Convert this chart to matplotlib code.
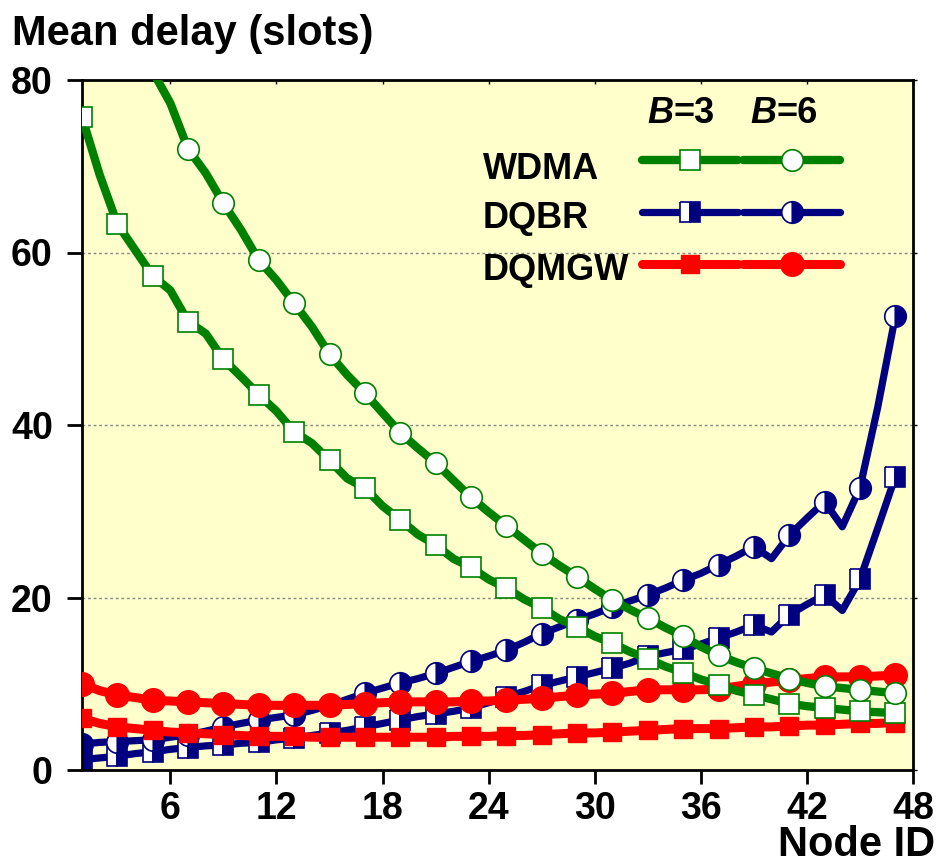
import matplotlib
matplotlib.use("Agg")
import matplotlib.pyplot as plt
import numpy as np

plt.rcParams['font.family'] = ['Liberation Sans', 'DejaVu Sans']
plt.rcParams['font.weight'] = 'bold'

# node ids 1..47
nodes = np.arange(1, 48)

wdma_b3 = [75.7, 69.0, 63.3, 60.3, 57.3, 55.6, 52.0, 50.6, 47.6, 45.6,
           43.5, 41.6, 39.2, 37.9, 35.9, 33.8, 32.7, 30.6, 29.0, 27.3,
           26.1, 24.5, 23.5, 22.1, 21.1, 19.8, 18.8, 17.5, 16.6, 15.5,
           14.7, 13.7, 12.9, 12.0, 11.3, 10.5, 9.9, 9.2, 8.7, 8.2,
           7.7, 7.4, 7.2, 7.0, 6.8, 6.7, 6.6]
wdma_b6 = [112.0, 102.0, 94.0, 87.0, 81.0, 77.3, 72.0, 69.2, 65.7, 62.6,
           59.1, 56.8, 54.1, 51.4, 48.2, 45.8, 43.7, 41.4, 39.1, 37.3,
           35.6, 33.6, 31.6, 29.9, 28.3, 26.7, 25.1, 23.7, 22.4, 21.0,
           19.7, 18.6, 17.6, 16.5, 15.5, 14.3, 13.3, 12.5, 11.8, 11.2,
           10.6, 10.1, 9.7, 9.5, 9.3, 9.1, 8.9]
dqbr_b3 = [1.2, 1.4, 1.6, 1.9, 2.1, 2.4, 2.6, 2.8, 2.9, 3.1,
           3.2, 3.5, 3.7, 4.0, 4.3, 4.6, 5.0, 5.4, 5.8, 6.2,
           6.5, 6.8, 7.2, 7.8, 8.5, 9.1, 9.8, 10.3, 10.8, 11.3,
           11.8, 12.4, 13.2, 13.6, 14.0, 14.6, 15.3, 16.0, 16.8, 16.0,
           18.0, 19.2, 20.3, 18.5, 22.1, 28.0, 34.0]
dqbr_b6 = [3.0, 3.2, 3.3, 3.4, 3.5, 3.8, 4.1, 4.5, 5.0, 5.4,
           5.8, 6.1, 6.4, 6.9, 7.5, 8.2, 8.9, 9.5, 10.1, 10.6,
           11.2, 11.9, 12.6, 13.2, 13.9, 14.8, 15.8, 16.6, 17.4, 18.1,
           18.9, 19.6, 20.3, 21.1, 22.0, 22.8, 23.8, 24.8, 25.9, 24.5,
           27.2, 29.2, 31.1, 28.2, 32.7, 42.0, 52.6]
dqmgw_b3 = [6.0, 5.4, 5.0, 4.8, 4.6, 4.4, 4.3, 4.2, 4.1, 4.0,
            3.9, 3.9, 3.9, 3.8, 3.8, 3.8, 3.8, 3.8, 3.8, 3.8,
            3.8, 3.9, 3.9, 3.9, 4.0, 4.0, 4.1, 4.2, 4.3, 4.3,
            4.4, 4.5, 4.6, 4.7, 4.8, 4.8, 4.8, 4.9, 5.0, 5.0,
            5.1, 5.2, 5.2, 5.3, 5.4, 5.4, 5.5]
dqmgw_b6 = [10.0, 9.2, 8.7, 8.4, 8.1, 8.0, 7.9, 7.8, 7.7, 7.6,
            7.5, 7.5, 7.5, 7.5, 7.5, 7.6, 7.7, 7.8, 7.9, 7.9,
            7.9, 7.9, 8.0, 8.0, 8.1, 8.2, 8.3, 8.5, 8.7, 8.8,
            8.9, 9.1, 9.3, 9.3, 9.3, 9.3, 9.4, 9.7, 10.0, 10.2,
            10.4, 10.6, 10.8, 10.8, 10.8, 10.9, 11.0]

xticks = [6, 12, 18, 24, 30, 36, 42, 48]
yticks = [0, 20, 40, 60, 80]
YMAX = 80

GREEN = '#008000'
NAVY = '#000080'
RED = '#ff0000'

styles = {
    'wdma_b3': dict(color=GREEN, lw=6.0, marker='s', ms=14, mfc='white', mec=GREEN, mew=1.2, zorder=4),
    'wdma_b6': dict(color=GREEN, lw=6.0, marker='o', ms=15.5, mfc='white', mec=GREEN, mew=1.2, zorder=4),
    'dqbr_b3': dict(color=NAVY, lw=5.2, marker='s', ms=14, mfc='white', mec=NAVY, mew=1.2,
                    fillstyle='left', markerfacecoloralt=NAVY, zorder=2),
    'dqbr_b6': dict(color=NAVY, lw=5.2, marker='o', ms=15.5, mfc='white', mec=NAVY, mew=1.2,
                    fillstyle='left', markerfacecoloralt=NAVY, zorder=2),
    'dqmgw_b3': dict(color=RED, lw=6.5, marker='s', ms=13.5, mfc=RED, mec=RED, zorder=3),
    'dqmgw_b6': dict(color=RED, lw=6.5, marker='o', ms=17, mfc=RED, mec=RED, zorder=3),
}
line_only = ('marker', 'ms', 'mfc', 'mec', 'mew', 'fillstyle', 'markerfacecoloralt')

fig = plt.figure(figsize=(9.41, 8.67), dpi=100)
ax = fig.add_axes([82 / 941, 1 - 770 / 867, 831 / 941, 690 / 867])
ax.set_facecolor('#ffffcc')

series = [('dqbr_b3', dqbr_b3), ('dqbr_b6', dqbr_b6),
          ('dqmgw_b3', dqmgw_b3), ('dqmgw_b6', dqmgw_b6),
          ('wdma_b3', wdma_b3), ('wdma_b6', wdma_b6)]
for key, vals in series:
    # markers on odd nodes only, skipped when off the top of the axis
    marks = [i for i in range(0, len(vals), 2) if vals[i] <= YMAX]
    ax.plot(nodes, vals, markevery=marks, solid_joinstyle='round', **styles[key])

ax.set_xlim(1, 48)
ax.set_ylim(0, YMAX)
ax.set_xticks(xticks)
ax.set_yticks(yticks)
ax.tick_params(axis='x', direction='out', length=10, width=2, pad=5, labelsize=27)
ax.tick_params(axis='y', direction='out', length=11, width=2, pad=10, labelsize=27)
for s in ax.spines.values():
    s.set_linewidth(2)
for y in [20, 40, 60]:
    ax.axhline(y, color='#888888', lw=1, ls=(0, (2, 2)), zorder=1)

top = ax.secondary_xaxis('top')
top.set_xticks(xticks)
top.tick_params(direction='in', length=3, width=1, labeltop=False)
right = ax.secondary_yaxis('right')
right.set_yticks(yticks)
right.tick_params(direction='out', length=3, width=1, labelright=False)

# hand-made legend block
tr = ax.transAxes
for xs, lab in [(0.7112, '=3'), (0.8363, '=6')]:
    ax.text(xs, 0.9377, 'B', ha='right', va='baseline', fontsize=26,
            fontstyle='italic', fontweight='bold', transform=tr)
    ax.text(xs, 0.9377, lab, ha='left', va='baseline', fontsize=26, fontweight='bold', transform=tr)

rows = [('WDMA', 'wdma_b3', 'wdma_b6', 0.884, 0.8565),
        ('DQBR', 'dqbr_b3', 'dqbr_b6', 0.8087, 0.7855),
        ('DQMGW', 'dqmgw_b3', 'dqmgw_b6', 0.7333, 0.7101)]
for name, k3, k6, ly, ty in rows:
    ax.text(0.4826, ty, name, ha='left', va='baseline', fontsize=26, fontweight='bold', transform=tr)
    for key, (x0, x1) in [(k3, (0.6735, 0.7894)), (k6, (0.7954, 0.9122))]:
        st = dict(styles[key])
        st['zorder'] = 6
        ax.plot([x0, x1], [ly, ly], transform=tr, solid_capstyle='round', clip_on=False,
                **{k: v for k, v in st.items() if k not in line_only})
        ax.plot([(x0 + x1) / 2], [ly], transform=tr, ls='none', clip_on=False, **st)

fig.text(12 / 941, 1 - 45 / 867, 'Mean delay (slots)', ha='left', va='baseline', fontsize=30, fontweight='bold')
fig.text(935 / 941, 0.002, 'Node ID', ha='right', va='bottom', fontsize=30, fontweight='bold')

fig.savefig('out.png', dpi=100)
